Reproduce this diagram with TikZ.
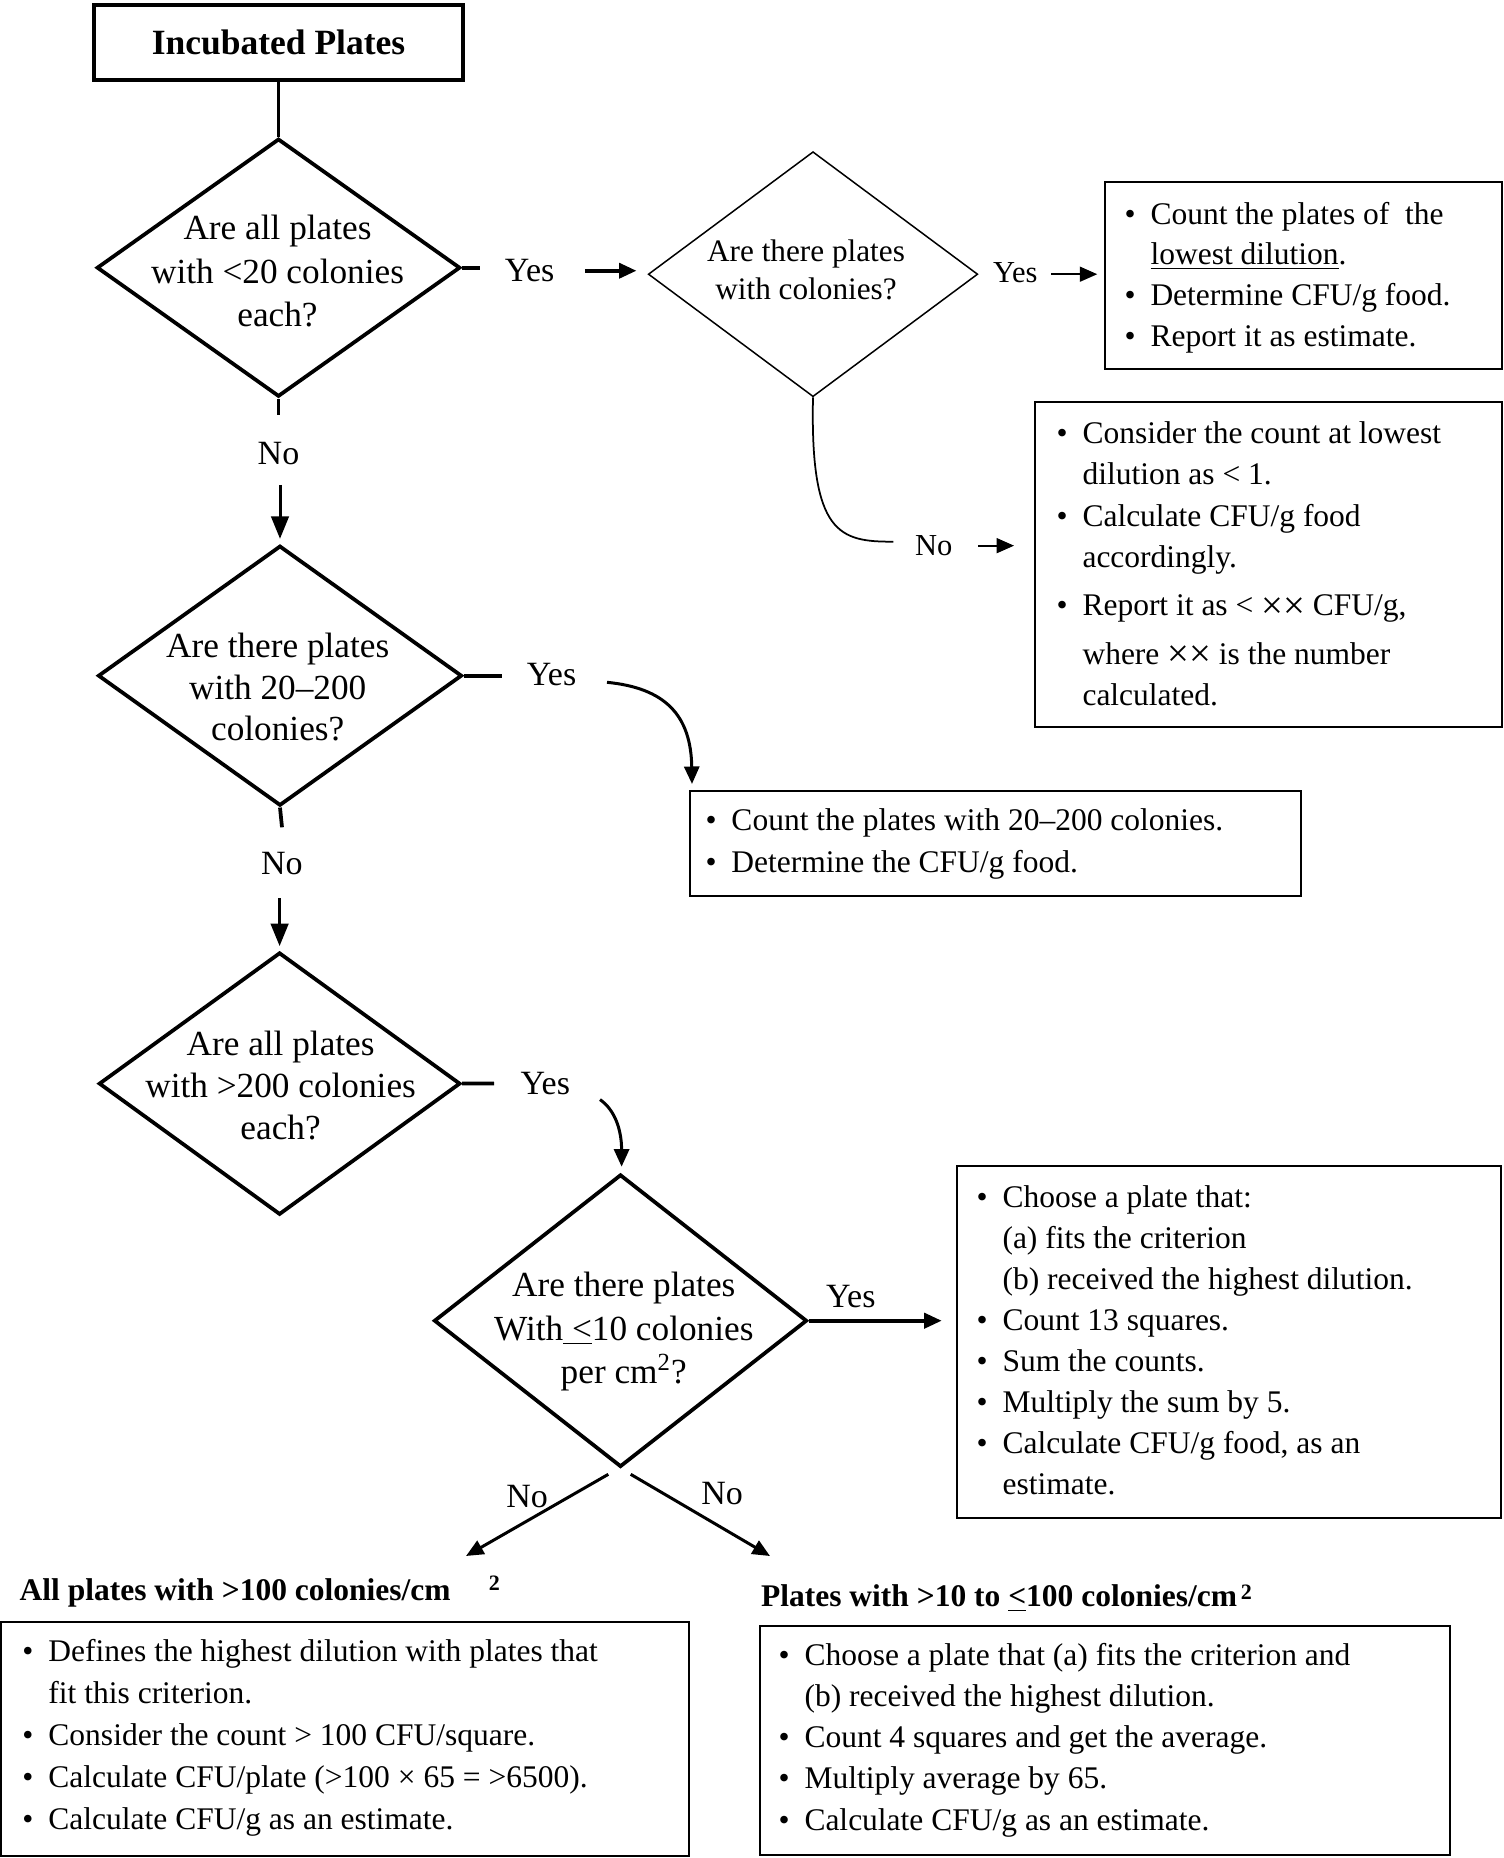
\documentclass[tikz,border=0pt]{standalone}
\usepackage{fontspec}
\setmainfont{Liberation Serif}
\usetikzlibrary{shapes.geometric,arrows.meta}
\newcommand{\mybul}{\makebox[10.4pt][l]{\textbullet}}
\newcommand{\myind}{\hspace*{10.4pt}}
\newcommand{\mylines}[1]{\begin{tabular}[t]{@{}l@{}}#1\end{tabular}}
\newcommand{\myclines}[1]{\begin{tabular}[t]{@{}c@{}}#1\end{tabular}}
\newcommand{\mytimes}{\raisebox{-0.9pt}{\fontsize{15.5pt}{16pt}\selectfont ××}}
\begin{document}
\begin{tikzpicture}[x=0.4pt,y=-0.4pt,
  thk/.style={line width=1.5pt},
  med/.style={line width=1.2pt},
  crv/.style={line width=1.2pt},
  thn/.style={line width=0.7pt},
  arr/.style={-{Triangle[length=7pt,width=6pt]}},
  arrV/.style={-{Triangle[length=9pt,width=7pt]}},
  diathick/.style={diamond, draw, line width=1.5pt, inner sep=0pt},
  diathin/.style={diamond, draw, line width=0.6pt, inner sep=0pt},
  infobox/.style={rectangle, draw, line width=0.8pt, inner sep=0pt},
  dtxt/.style={inner sep=0pt, anchor=base, font=\fontsize{14.1pt}{#1}\selectfont},
  btxt/.style={inner sep=0pt, anchor=base west, font=\fontsize{12.6pt}{#1}\selectfont},
  lbl/.style={inner sep=0pt, anchor=base, font=\fontsize{13.6pt}{16pt}\selectfont},
  lblsm/.style={inner sep=0pt, anchor=base, font=\fontsize{12.2pt}{14pt}\selectfont},
  headtxt/.style={inner sep=0pt, anchor=base west, font=\bfseries\fontsize{12.6pt}{15pt}\selectfont}
]
\fill[white] (0,0) rectangle (1504,1858);
\useasboundingbox (0,0) rectangle (1504,1858);

% start box
\node[draw, line width=1.6pt, minimum width=147.3pt, minimum height=30.1pt, inner sep=0pt,
      font=\bfseries\fontsize{14.2pt}{17pt}\selectfont] (top) at (278.5,42.4) {Incubated Plates};

% diamonds
\node[diathick, minimum width=145.4pt, minimum height=103.2pt] (d1) at (278.5,267.7) {};
\node[dtxt=17.5pt] (d1t) at (277.5,239.3) {\myclines{Are all plates\\with <20 colonies\\each?}};

\node[diathin, minimum width=131.8pt, minimum height=98pt] (d2) at (813,274.2) {};
\node[inner sep=0pt, anchor=base, font=\fontsize{12.5pt}{15pt}\selectfont] (d2t) at (806,261.7) {\myclines{Are there plates\\with colonies?}};

\node[diathick, minimum width=145.6pt, minimum height=104pt] (d3) at (280,675.7) {};
\node[dtxt=16.7pt] (d3t) at (277.7,657.3) {\myclines{Are there plates\\with 20–200\\colonies?}};

\node[diathick, minimum width=144.6pt, minimum height=104.9pt] (d4) at (279.6,1083.6) {};
\node[dtxt=16.8pt] (d4t) at (280.6,1055.9) {\myclines{Are all plates\\with >200 colonies\\each?}};

\node[diathick, minimum width=149.2pt, minimum height=117pt] (d5) at (620.5,1320.7) {};
\node[dtxt=17.4pt] (d5t) at (623.8,1296.9) {\myclines{Are there plates\\With\underline{\hspace{0.25em}<}10 colonies\\per cm\textsuperscript{2}?}};

% boxes
\node[infobox, minimum width=158.8pt, minimum height=75pt] (b1) at (1303,275.3) {};
\node[btxt=16.3pt] (b1t) at (1124,224.2) {\mylines{\mybul Count the plates of\ \ the\\ \myind\underline{lowest dilution}.\\ \mybul Determine CFU/g food.\\ \mybul Report it as estimate.}};

\node[infobox, minimum width=186.6pt, minimum height=129.8pt] (b2) at (1268.3,564.7) {};
\node[btxt=16.6pt] (b2t) at (1056,443.2) {\mylines{\mybul Consider the count at lowest\\ \myind dilution as < 1.\\ \mybul Calculate CFU/g food\\ \myind accordingly.\\[2.7pt] \mybul Report it as < \mytimes{} CFU/g,\\[2.7pt] \myind where \mytimes{} is the number\\ \myind calculated.}};

\node[infobox, minimum width=244.4pt, minimum height=42pt] (b3) at (995.5,843.2) {};
\node[btxt=16.6pt] (b3t) at (705,830.7) {\mylines{\mybul Count the plates with 20–200 colonies.\\ \mybul Determine the CFU/g food.}};

\node[infobox, minimum width=217.5pt, minimum height=140.7pt] (b4) at (1229.1,1342) {};
\node[btxt=16.4pt] (b4t) at (976,1207) {\mylines{\mybul Choose a plate that:\\ \myind (a) fits the criterion\\ \myind (b) received the highest dilution.\\ \mybul Count 13 squares.\\ \mybul Sum the counts.\\ \mybul Multiply the sum by 5.\\ \mybul Calculate CFU/g food, as an\\ \myind estimate.}};

\node[infobox, minimum width=275.1pt, minimum height=93.5pt] (b5) at (344.9,1739.2) {};
\node[btxt=16.8pt] (b5t) at (22,1661.7) {\mylines{\mybul Defines the highest dilution with plates that\\ \myind fit this criterion.\\ \mybul Consider the count > 100 CFU/square.\\ \mybul Calculate CFU/plate (>100 × 65 = >6500).\\ \mybul Calculate CFU/g as an estimate.}};

\node[infobox, minimum width=276.2pt, minimum height=91.7pt] (b6) at (1104.9,1740.4) {};
\node[btxt=16.5pt] (b6t) at (778,1665) {\mylines{\mybul Choose a plate that (a) fits the criterion and\\ \myind (b) received the highest dilution.\\ \mybul Count 4 squares and get the average.\\ \mybul Multiply average by 65.\\ \mybul Calculate CFU/g as an estimate.}};

% headings
\node[headtxt] (h1) at (19.2,1600) {All plates with >100 colonies/cm\hspace{15.3pt}\raisebox{4pt}{\fontsize{8.8pt}{10pt}\selectfont 2}};
\node[headtxt] (h2) at (760.6,1606.7) {Plates with >10 to \underline{<}100 colonies/cm\hspace{1.5pt}\raisebox{3pt}{\fontsize{8.8pt}{10pt}\selectfont 2}};

% labels
\node[lbl] (yes1) at (529.7,281.7) {Yes};
\node[lbl] (no1) at (278.5,464.2) {No};
\node[lblsm] (yes2) at (1015.3,282.7) {Yes};
\node[lblsm] (no2) at (933.8,555.5) {No};
\node[lbl] (yes3) at (551.5,685.7) {Yes};
\node[lbl] (no3) at (281.8,874.7) {No};
\node[lbl] (yes4) at (545.3,1094.2) {Yes};
\node[lbl] (yes5) at (850.8,1307.2) {Yes};
\node[lbl] (no5a) at (527.2,1507) {No};
\node[lbl] (no5b) at (722.2,1504.2) {No};

% connectors
\draw[thk] (top.south) -- (d1.north);
\coordinate (s1) at (480,267.7);
\draw[thk] (d1.east) -- (s1);
\draw[thk, arr, shorten <=12pt, shorten >=4.4pt] (yes1.east) -- (yes1.east -| d2.west);

\draw[thn, arr, shorten <=5.2pt, shorten >=2.5pt] (yes2.east |- d2.east) -- (b1.west |- d2.east);
\coordinate (c2) at (893.3,541.7);
\draw[thn] (d2.south) .. controls (810,535) and (840,541.7) .. (c2);
\draw[thn, arr, shorten <=10.2pt, shorten >=8pt] (no2.east) -- (no2.east -| b2.west);

\coordinate (s2) at (278.5,415);
\draw[thk] (d1.south) -- (s2);
\draw[med, arrV, shorten <=7.9pt, shorten >=2pt] (d3.north |- no1.south) -- (d3.north);

\coordinate (s3) at (501.7,675.7);
\draw[thk] (d3.east) -- (s3);
\coordinate (c3s) at (607,682.3);
\coordinate (c3e) at (692,784);
\draw[crv, arr] (c3s) .. controls (665,688) and (691,715) .. (c3e);

\coordinate (s4) at (282,827.3);
\draw[thk] (d3.south) -- (s4);
\draw[med, arrV, shorten <=9pt, shorten >=1.8pt] (d4.north |- no3.south) -- (d4.north);

\coordinate (s5) at (494,1083.4);
\draw[thk] (d4.east) -- (s5);
\coordinate (c4s) at (600,1099.6);
\coordinate (c4e) at (621.6,1166.7);
\draw[crv, arr] (c4s) .. controls (615,1110) and (621.6,1130) .. (c4e);

\draw[thk, arr, shorten >=5.8pt] (d5.east) -- (d5.east -| b4.west);

\coordinate (c5a) at (608.3,1474.3);
\coordinate (c5ae) at (466,1556);
\coordinate (c5b) at (630.7,1474.3);
\coordinate (c5be) at (770,1556);
\draw[med, arr] (c5a) -- (c5ae);
\draw[med, arr] (c5b) -- (c5be);
\end{tikzpicture}
\end{document}
